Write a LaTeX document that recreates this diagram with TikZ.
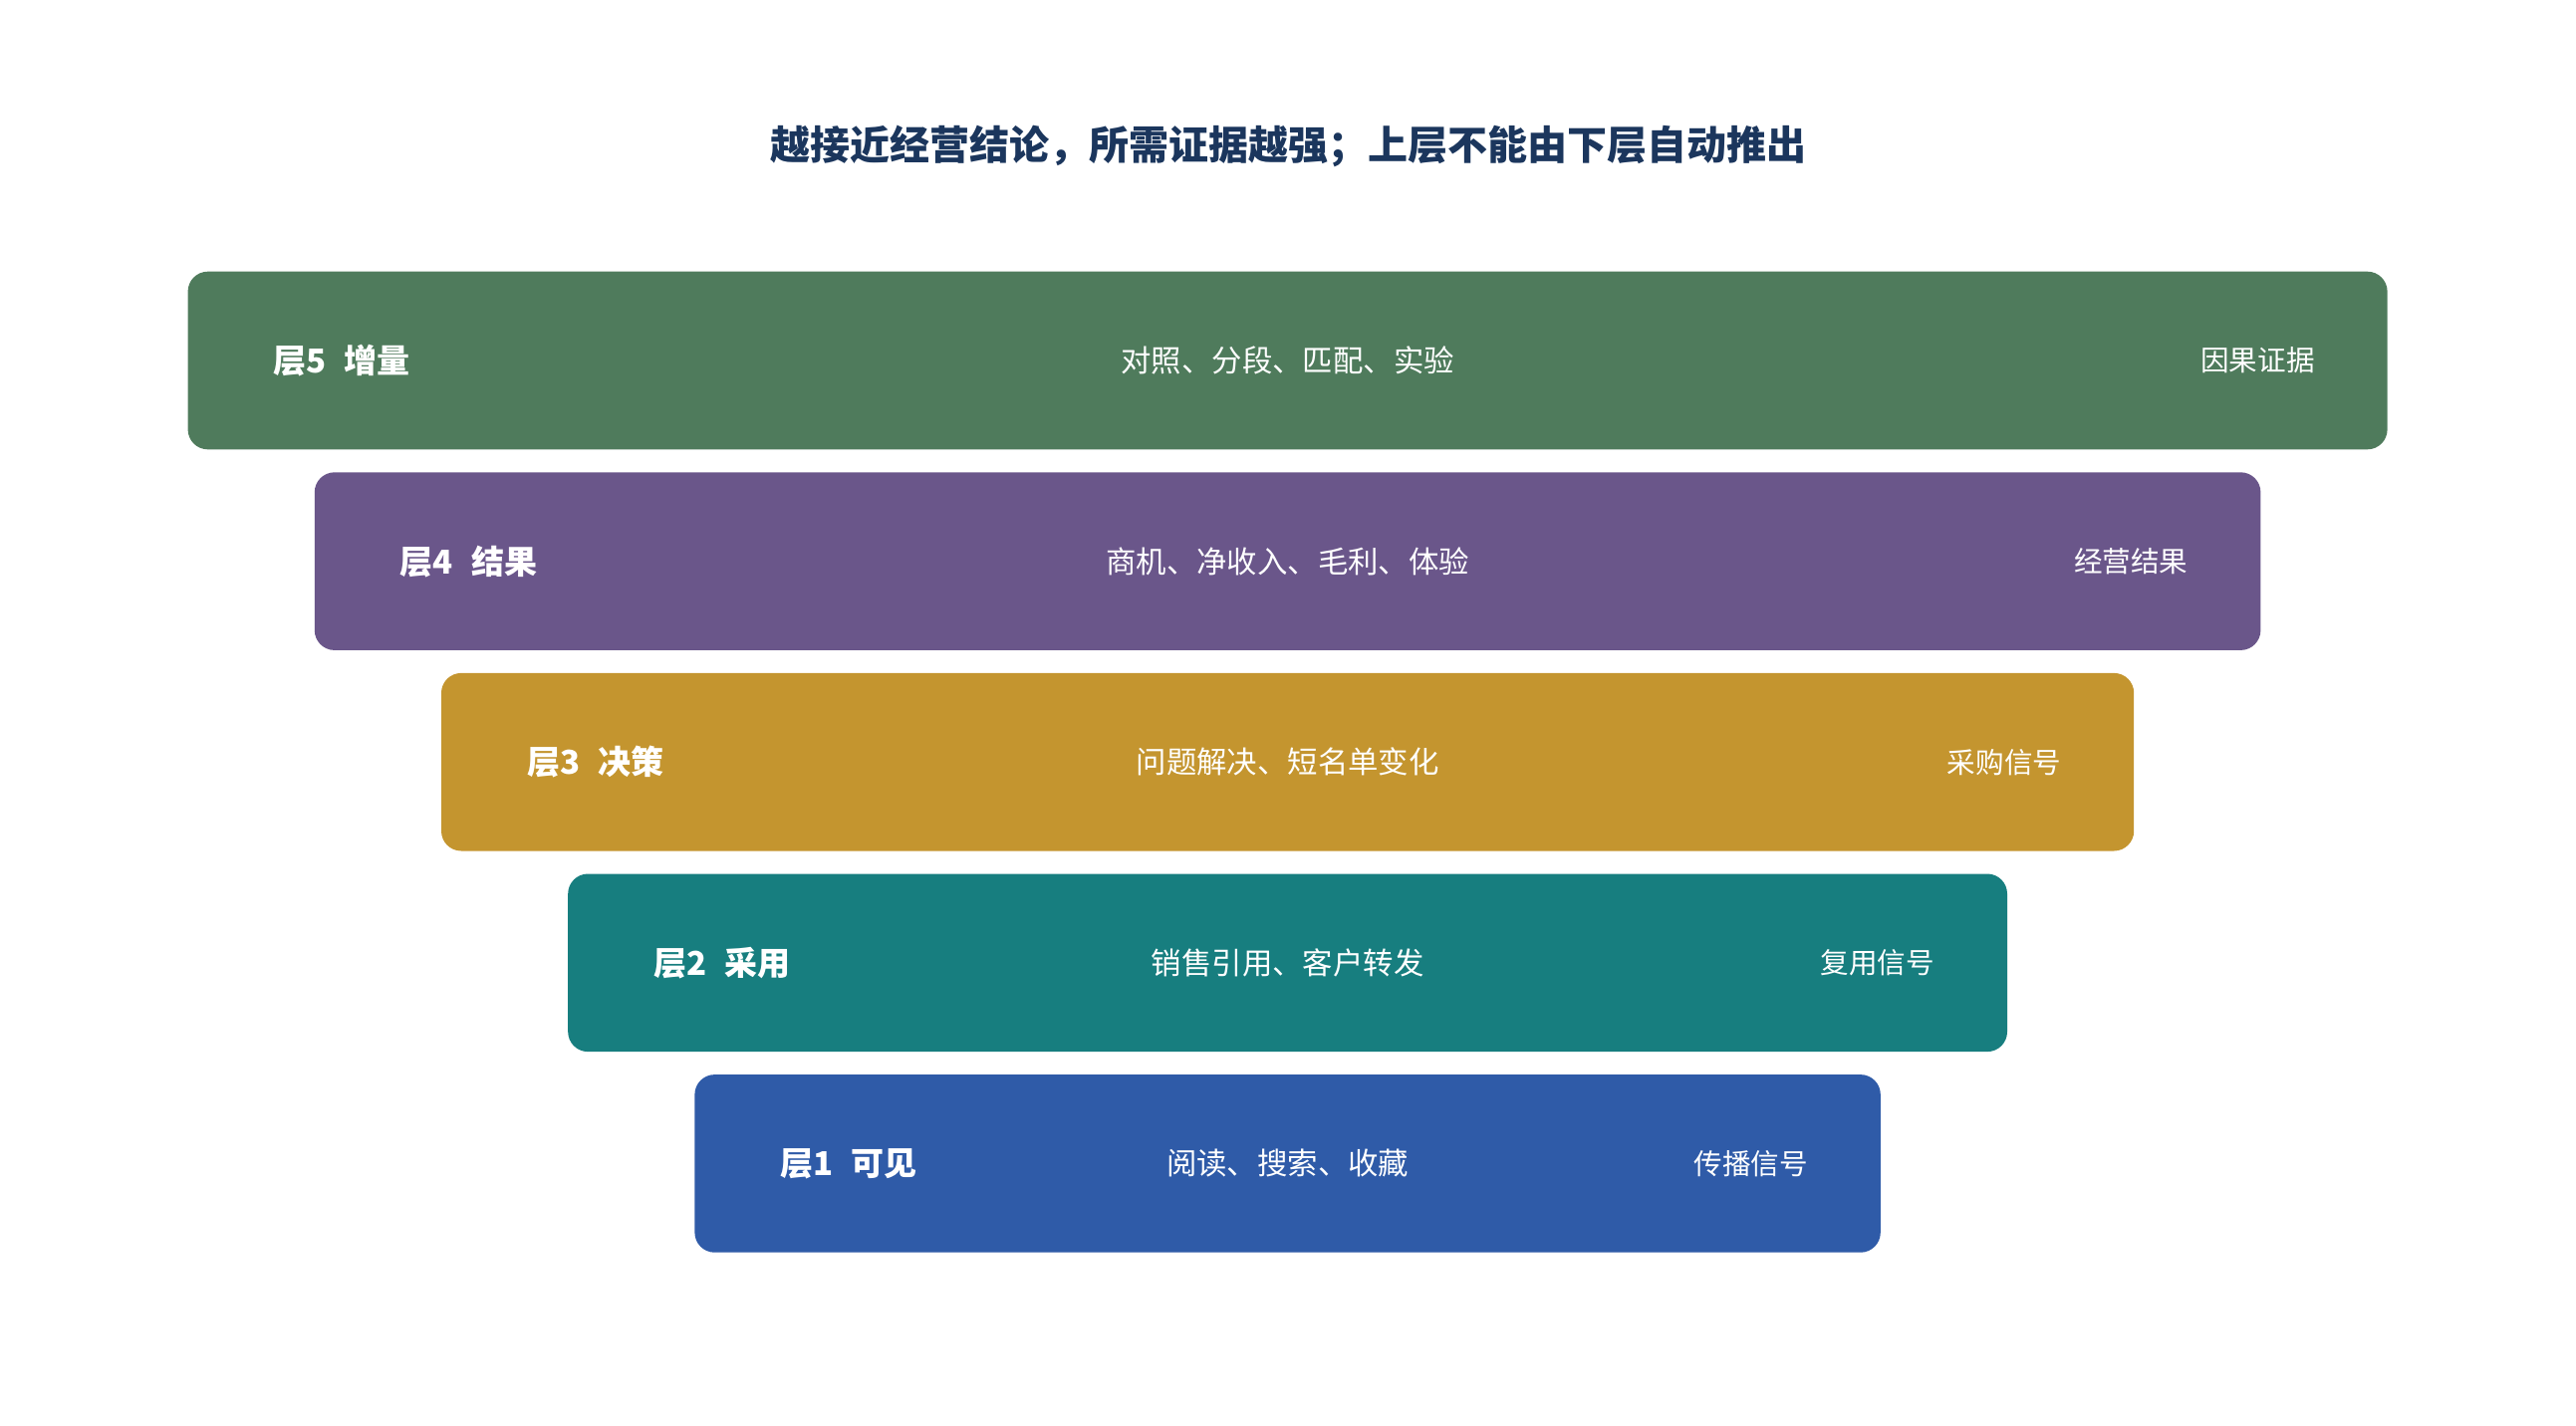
\documentclass[tikz,border=0pt]{standalone}
\usepackage{fontspec}
\setmainfont{Noto Sans CJK SC}
\definecolor{titleblue}{HTML}{1B365D}
\definecolor{lgreen}{HTML}{4F7B5C}
\definecolor{lpurple}{HTML}{6A568A}
\definecolor{lgold}{HTML}{C4952F}
\definecolor{lteal}{HTML}{177E7F}
\definecolor{lblue}{HTML}{2F5BA8}
\tikzset{
  layer/.style={rectangle, rounded corners=10pt, draw=none, minimum height=89.3pt, inner sep=0pt},
  layertag/.style={anchor=west, text=white, font=\bfseries\fontsize{16.5}{18}\selectfont, inner sep=0pt},
  layertext/.style={text=white, font=\fontsize{15.2}{17}\selectfont, inner sep=0pt},
  layerout/.style={text=white, font=\fontsize{14.3}{16}\selectfont, inner sep=0pt, anchor=east}
}
\begin{document}
\begin{tikzpicture}[x=1pt, y=-1pt]
  \useasboundingbox (0,0) rectangle (1293,715.5);

  \node[text=titleblue, font=\bfseries\fontsize{20}{23}\selectfont] (title) at (646.5,73.5) {越接近经营结论，所需证据越强；上层不能由下层自动推出};

  \foreach \k/\n/\tag/\mid/\out/\col in {0/5/增量/对照、分段、匹配、实验/因果证据/lgreen,
      1/4/结果/商机、净收入、毛利、体验/经营结果/lpurple,
      2/3/决策/问题解决、短名单变化/采购信号/lgold,
      3/2/采用/销售引用、客户转发/复用信号/lteal,
      4/1/可见/阅读、搜索、收藏/传播信号/lblue} {
    \node[layer, fill=\col, minimum width={1104pt-127.2pt*\k}] (L\n) at (646.3, {181+100.8*\k}) {};
    \node[layertag] (L\n-tag) at ([xshift=43pt]L\n.west) {层\n\hspace{0.55em}\tag};
    \node[layertext] (L\n-mid) at (L\n.center) {\mid};
    \node[layerout] (L\n-out) at ([xshift=-36.5pt]L\n.east) {\out};
  }
\end{tikzpicture}
\end{document}
